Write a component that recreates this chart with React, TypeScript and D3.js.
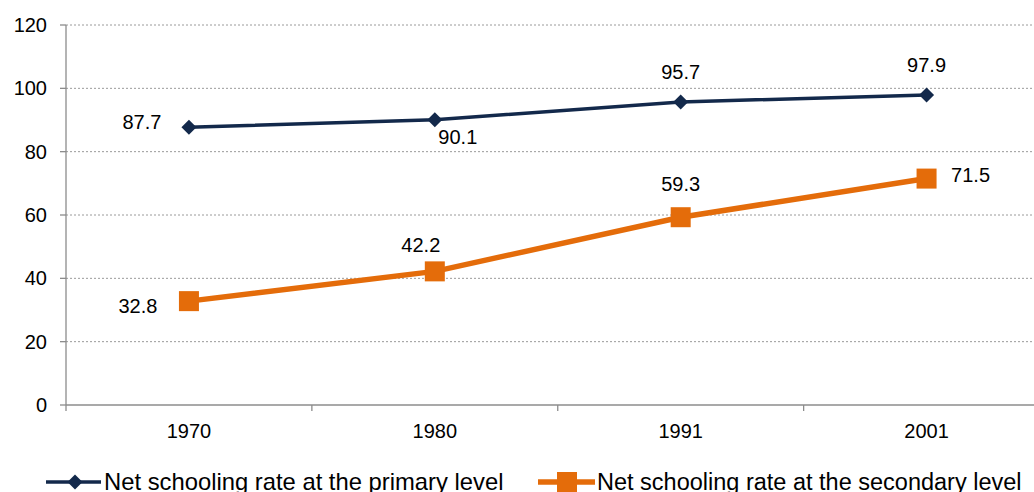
import React, { useEffect } from "react";
import * as d3 from "d3";

// Survey years and net schooling rates (%)
const years = ["1970", "1980", "1991", "2001"];
const primaryRates = [87.7, 90.1, 95.7, 97.9];
const secondaryRates = [32.8, 42.2, 59.3, 71.5];
const yTicks = [0, 20, 40, 60, 80, 100, 120];
const seriesNames = [
  "Net schooling rate at the primary level",
  "Net schooling rate at the secondary level",
];

// Label placement relative to each point: [dx, dy of baseline]
const primaryLabelOffsets: [number, number][] = [
  [-47, 2],
  [23, 24],
  [0, -23],
  [0, -23],
];
const secondaryLabelOffsets: [number, number][] = [
  [-51, 12],
  [-14, -19],
  [0, -26],
  [44, 3],
];

const W = 1034;
const H = 492;
const NAVY = "#13294b";
const ORANGE = "#e46c0a";
const FONT = "'Liberation Sans', Arial, sans-serif";

export default function App() {
  useEffect(() => {
    document.body.style.margin = "0";
  }, []);

  const x = d3.scaleBand<string>().domain(years).range([66, 1049.5]).padding(0);
  const cx = (c: string) => (x(c) as number) + x.bandwidth() / 2;
  const y = d3.scaleLinear().domain([0, 120]).range([405, 25]);

  const line = d3
    .line<number>()
    .x((_, i) => cx(years[i]))
    .y((d) => y(d));

  const boundaries = years.map((c) => x(c) as number).concat([x.range()[1]]);

  const diamond = (px: number, py: number, r: number) =>
    `M${px},${py - r}L${px + r},${py}L${px},${py + r}L${px - r},${py}Z`;

  return (
    <svg width={W} height={H} style={{ display: "block", fontFamily: FONT }}>
      <rect width={W} height={H} fill="#ffffff" />
      {/* title, mostly outside the top edge */}
      <text x={400} y={-3} textAnchor="middle" fontSize={16} fill="#000">
        (in percentage)
      </text>

      {/* gridlines */}
      {yTicks
        .filter((t) => t > 0)
        .map((t) => (
          <line
            key={"g" + t}
            x1={66}
            x2={W}
            y1={y(t)}
            y2={y(t)}
            stroke="#9a9a9a"
            strokeWidth={1}
            strokeDasharray="2,2"
          />
        ))}

      {/* y axis */}
      <line x1={66} x2={66} y1={y(120)} y2={y(0)} stroke="#8c8c8c" strokeWidth={1.3} />
      {yTicks.map((t) => (
        <g key={"y" + t}>
          <line x1={60} x2={66} y1={y(t)} y2={y(t)} stroke="#8c8c8c" strokeWidth={1.3} />
          <text x={47} y={y(t) + 7} textAnchor="end" fontSize={20} fill="#000">
            {t}
          </text>
        </g>
      ))}

      {/* x axis */}
      <line x1={66} x2={W} y1={y(0)} y2={y(0)} stroke="#8c8c8c" strokeWidth={1.3} />
      {boundaries.map((b, i) => (
        <line key={"xt" + i} x1={b} x2={b} y1={y(0)} y2={y(0) + 6} stroke="#8c8c8c" strokeWidth={1.3} />
      ))}
      {years.map((c) => (
        <text key={"xl" + c} x={cx(c)} y={438} textAnchor="middle" fontSize={20} fill="#000">
          {c}
        </text>
      ))}

      {/* primary series */}
      <path d={line(primaryRates) || ""} fill="none" stroke={NAVY} strokeWidth={3.5} />
      {primaryRates.map((v, i) => (
        <path key={"pm" + i} d={diamond(cx(years[i]), y(v), 7.5)} fill={NAVY} />
      ))}
      {primaryRates.map((v, i) => (
        <text
          key={"pl" + i}
          x={cx(years[i]) + primaryLabelOffsets[i][0]}
          y={y(v) + primaryLabelOffsets[i][1]}
          textAnchor="middle"
          fontSize={20}
          fill="#000"
        >
          {v.toFixed(1)}
        </text>
      ))}

      {/* secondary series */}
      <path d={line(secondaryRates) || ""} fill="none" stroke={ORANGE} strokeWidth={5.5} />
      {secondaryRates.map((v, i) => (
        <rect
          key={"sm" + i}
          x={cx(years[i]) - 10}
          y={y(v) - 10}
          width={20}
          height={20}
          fill={ORANGE}
        />
      ))}
      {secondaryRates.map((v, i) => (
        <text
          key={"sl" + i}
          x={cx(years[i]) + secondaryLabelOffsets[i][0]}
          y={y(v) + secondaryLabelOffsets[i][1]}
          textAnchor="middle"
          fontSize={20}
          fill="#000"
        >
          {v.toFixed(1)}
        </text>
      ))}

      {/* legend */}
      <g>
        <line x1={46} x2={101} y1={482} y2={482} stroke={NAVY} strokeWidth={3.5} />
        <path d={diamond(75, 482, 7.5)} fill={NAVY} />
        <text x={104} y={490} fontSize={23.8} fill="#000">
          {seriesNames[0]}
        </text>
        <line x1={538} x2={595} y1={482} y2={482} stroke={ORANGE} strokeWidth={5.5} />
        <rect x={557} y={472} width={20} height={20} fill={ORANGE} />
        <text x={597} y={490} fontSize={23.5} fill="#000">
          {seriesNames[1]}
        </text>
      </g>
    </svg>
  );
}
